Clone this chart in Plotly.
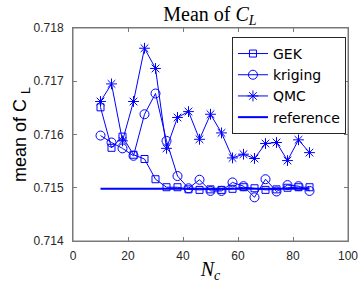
import plotly.graph_objects as go

nc = [10, 14, 18, 22, 26, 30, 34, 38, 42, 46, 50, 54, 58, 62, 66, 70, 74, 78, 82, 86]
gek = [0.71651, 0.71575, 0.71596, 0.71562, 0.71554, 0.71516, 0.71501, 0.71501, 0.71497, 0.71496,
       0.71497, 0.71496, 0.71498, 0.71501, 0.71499, 0.71496, 0.71497, 0.71500, 0.71501, 0.71501]
kriging = [0.71598, 0.71585, 0.71574, 0.71560, 0.71638, 0.71677, 0.71588, 0.71522, 0.71499, 0.71515,
           0.71494, 0.71494, 0.71510, 0.71503, 0.71482, 0.71516, 0.71493, 0.71505, 0.71503, 0.71494]
qmc = [0.71662, 0.71695, 0.71588, 0.71662, 0.71762, 0.71724, 0.71574, 0.71632, 0.71643, 0.71591,
       0.71638, 0.71603, 0.71556, 0.71563, 0.71555, 0.71583, 0.71585, 0.71551, 0.71590, 0.71566]
ref_x = [10, 86]
ref_y = [0.71498, 0.71498]

blue = "rgb(0,0,255)"
fig = go.Figure()
fig.add_trace(go.Scatter(x=nc, y=gek, name="GEK", mode="lines+markers",
                         line=dict(color=blue, width=1),
                         marker=dict(symbol="square-open", size=7, color=blue, line=dict(width=1))))
fig.add_trace(go.Scatter(x=nc, y=kriging, name="kriging", mode="lines+markers",
                         line=dict(color=blue, width=1),
                         marker=dict(symbol="circle-open", size=9, color=blue, line=dict(width=1))))
fig.add_trace(go.Scatter(x=nc, y=qmc, name="QMC", mode="lines+markers",
                         line=dict(color=blue, width=1),
                         marker=dict(symbol="asterisk-open", size=9, color=blue, line=dict(width=1))))
fig.add_trace(go.Scatter(x=ref_x, y=ref_y, name="reference", mode="lines",
                         line=dict(color=blue, width=2)))

axis_common = dict(showline=True, linecolor="rgb(120,120,120)", linewidth=1, mirror="ticks",
                   ticks="inside", ticklen=4, tickcolor="rgb(120,120,120)", showgrid=False,
                   zeroline=False, automargin=False, ticklabeloverflow="allow",
                   tickfont=dict(family="Liberation Sans, Arial", size=12, color="rgb(38,38,38)"))

fig.update_layout(
    width=358, height=283,
    margin=dict(l=73, r=10, t=28, b=42),
    paper_bgcolor="white", plot_bgcolor="white",
    title=dict(text="Mean of <i>C</i><sub><i>L</i></sub>", x=0.5865, xanchor="center", y=0.95, yanchor="middle",
               font=dict(family="Liberation Serif, Times New Roman", size=20, color="black")),
    xaxis=dict(range=[0, 100], tickvals=[0, 20, 40, 60, 80, 100], ticklabelstandoff=4,
               title=dict(text="<i>N<sub>c</sub></i>", standoff=2,
                          font=dict(family="Liberation Serif, Times New Roman", size=20, color="black")),
               **axis_common),
    yaxis=dict(range=[0.714, 0.718], tickvals=[0.714, 0.715, 0.716, 0.717, 0.718],
               tickformat=".3f", ticklabelstandoff=6,
               title=dict(text="mean of C <sub>L</sub>", standoff=2,
                          font=dict(family="Liberation Sans, Arial", size=18, color="black")),
               **axis_common),
    legend=dict(x=0.578, y=0.958, xanchor="left", yanchor="top",
                bordercolor="rgb(40,40,40)", borderwidth=1, bgcolor="white",
                font=dict(family="DejaVu Sans, Liberation Sans", size=14, color="black"),
                tracegroupgap=0, itemwidth=30),
    shapes=[dict(type="rect", xref="paper", yref="paper", x0=0, x1=1, y0=0, y1=1,
                 line=dict(color="rgb(120,120,120)", width=1), layer="below")],
    showlegend=True,
)

fig.write_html("out.html", config={"displayModeBar": False},
               post_script="document.body.style.margin='0';document.body.style.padding='0';")
